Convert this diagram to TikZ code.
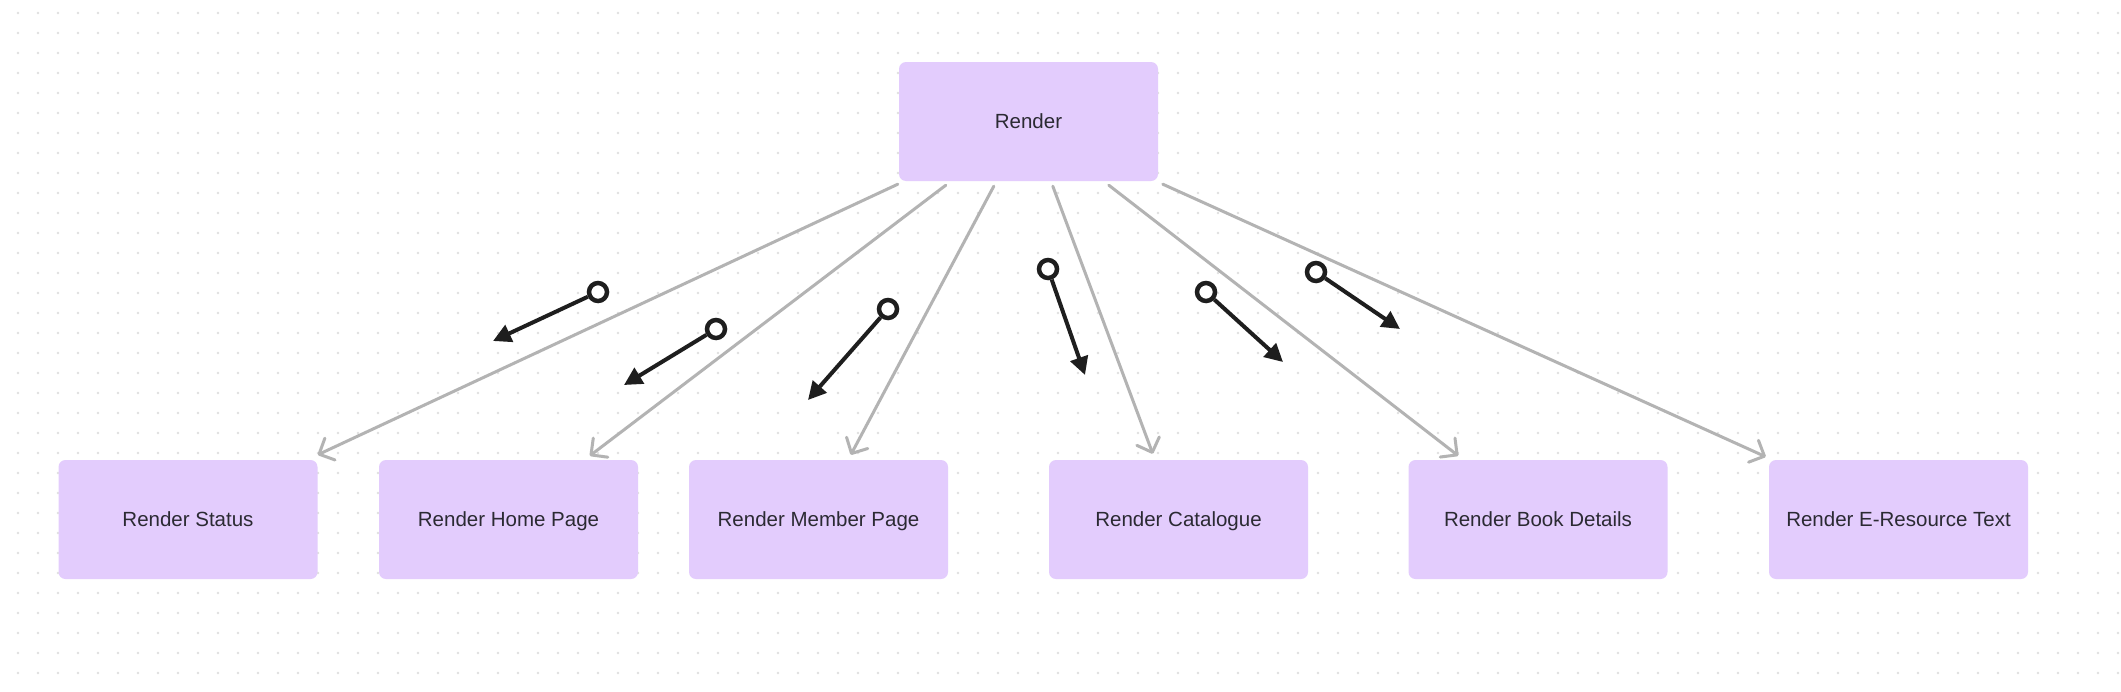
\documentclass[tikz,border=0pt]{standalone}
\usepackage{fontspec}
\setmainfont{Liberation Sans}
\usetikzlibrary{arrows.meta,calc}
\definecolor{boxfill}{HTML}{E3CCFD}
\definecolor{txt}{HTML}{2B2A33}
\definecolor{conn}{HTML}{B3B3B3}
\definecolor{dotc}{HTML}{E0E0E0}
\definecolor{ink}{HTML}{1E1E1E}
\tikzset{
  card/.style={draw=none,fill=boxfill,rounded corners=7pt,minimum width=259pt,minimum height=119pt,inner sep=0pt,text=txt,text height=15pt,text depth=2pt,font=\fontsize{20.5}{24}\selectfont},
  link/.style={draw=conn,line width=3pt,line cap=round,-{Straight Barb[length=12pt,width=24pt,line width=3pt,round]}},
  ring/.style={circle,draw=ink,line width=4.5pt,fill=white,minimum size=18pt,inner sep=0pt},
  pointer/.style={draw=ink,line width=4pt,-{Triangle[length=18pt,width=18pt]}},
}
\begin{document}
\begin{tikzpicture}[x=1pt,y=-1pt]
\useasboundingbox (0,0) rectangle (2121,691);
\fill[white] (0,0) rectangle (2121,691);
\foreach \i in {0,...,105}{\foreach \j in {0,...,33}{\fill[dotc] (18+20*\i,13+20*\j) circle (1.3pt);}}
% nodes
\node[card] (top) at (1028.5,121.5) {Render};
\node[card] (status) at (188,519.5) {Render Status};
\node[card] (home) at (508.5,519.5) {Render Home Page};
\node[card] (member) at (818.5,519.5) {Render Member Page};
\node[card] (cat) at (1178.5,519.5) {Render Catalogue};
\node[card] (book) at (1538,519.5) {Render Book Details};
\node[card] (eres) at (1898.5,519.5) {Render E-Resource Text};
% gray connectors
\draw[link] ($(top.south west)+(-1,3)$) -- ($(status.north east)+(0,-5)$);
\draw[link] ($(top.south west)+(47,4)$) -- ($(home.north west)+(211,-4)$);
\draw[link] ($(top.south west)+(95,5)$) -- ($(member.north west)+(162,-5)$);
\draw[link] ($(top.south west)+(154,5)$) -- ($(cat.north west)+(104,-6)$);
\draw[link] ($(top.south west)+(210,4)$) -- ($(book.north west)+(50,-4)$);
\draw[link] ($(top.south west)+(264,3)$) -- ($(eres.north west)+(-3,-3)$);
% black pointers
\node[ring] (c1) at (598,292) {};
\node[ring] (c2) at (716,329) {};
\node[ring] (c3) at (888,309) {};
\node[ring] (c4) at (1048,269) {};
\node[ring] (c5) at (1206,292) {};
\node[ring] (c6) at (1316,272) {};
\coordinate (t1) at (493,341);
\coordinate (t2) at (624,385);
\coordinate (t3) at (808,400);
\coordinate (t4) at (1085,375);
\coordinate (t5) at (1283,362);
\coordinate (t6) at (1400,329);
\foreach \k in {1,...,6}{\draw[pointer] (c\k) -- (t\k);}
\end{tikzpicture}
\end{document}
